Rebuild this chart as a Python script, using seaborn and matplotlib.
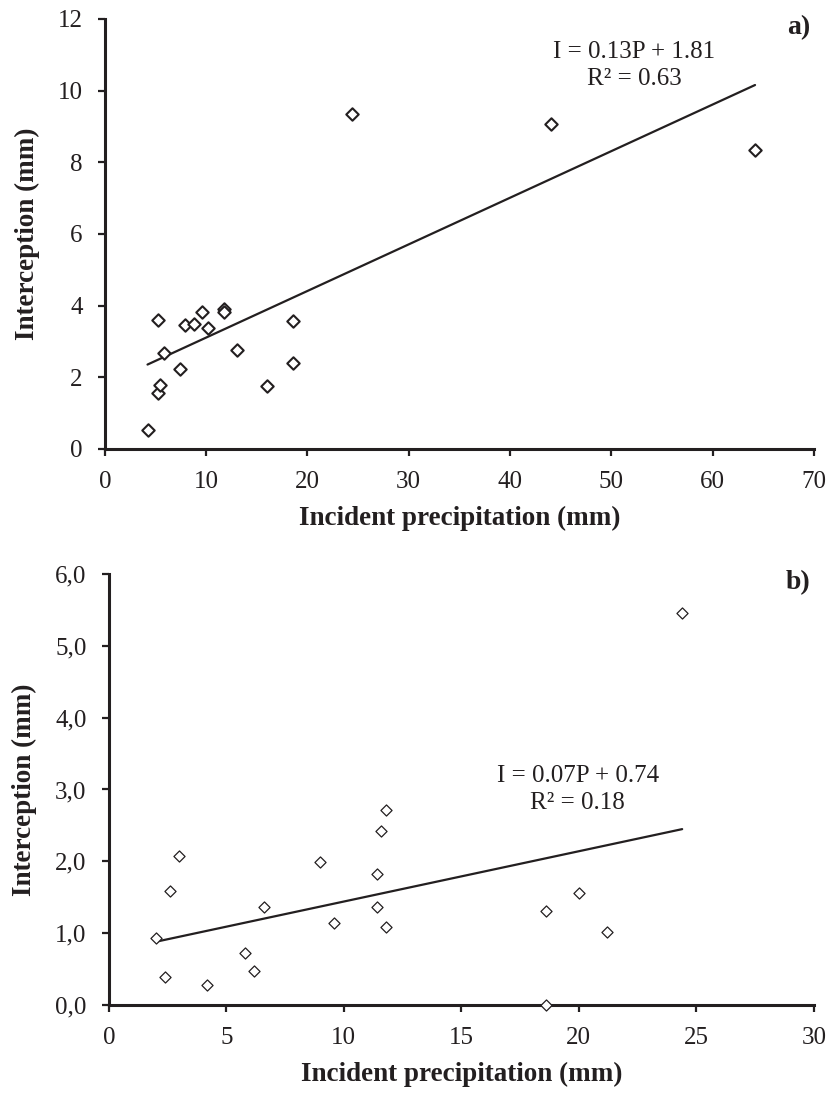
import matplotlib
matplotlib.use("Agg")
import matplotlib.pyplot as plt
import seaborn as sns
import pandas as pd
from matplotlib.ticker import FuncFormatter

# panel a) - incident precipitation vs interception (mm)
precip_a = [4.2, 5.2, 5.2, 5.4, 5.8, 7.4, 7.9, 8.8, 9.6, 10.2, 11.8, 11.8,
            13.0, 16.0, 18.6, 18.6, 24.4, 44.0, 64.2]
interc_a = [0.52, 1.57, 3.60, 1.78, 2.69, 2.23, 3.47, 3.48, 3.81, 3.38, 3.92,
            3.83, 2.76, 1.76, 3.58, 2.41, 9.35, 9.06, 8.35]
slope_a, icpt_a, r2_a = 0.13, 1.81, 0.63

# panel b)
precip_b = [2.0, 2.4, 2.6, 3.0, 4.2, 5.8, 6.2, 6.6, 9.0, 9.6, 11.4, 11.4,
            11.6, 11.8, 11.8, 18.6, 18.6, 20.0, 21.2, 24.4]
interc_b = [0.93, 0.39, 1.58, 2.07, 0.28, 0.73, 0.48, 1.37, 1.99, 1.14, 1.83,
            1.36, 2.42, 2.71, 1.08, 1.31, 0.00, 1.56, 1.01, 5.45]
slope_b, icpt_b, r2_b = 0.07, 0.74, 0.18

sns.set_style("ticks")
plt.rcParams['font.family'] = ['Liberation Serif', 'DejaVu Serif']
ink = '#231f20'

fig = plt.figure(figsize=(8.28, 11.01), dpi=100)
ax_a = fig.add_axes([0.1268, 0.5922, 0.856, 0.3906])
ax_b = fig.add_axes([0.1314, 0.0872, 0.8514, 0.3915])


def panel(ax, px, iy, slope, icpt, r2, msize, mew, xmax, xstep, ymax, ystep,
          yfmt, eq_xy, tag):
    df = pd.DataFrame({'P': px, 'I': iy})
    sns.scatterplot(data=df, x='P', y='I', ax=ax, marker='D', s=msize,
                    facecolor='white', edgecolor=ink, linewidth=mew, zorder=3,
                    clip_on=False)
    # trend line over the observed range
    xs = [min(px), max(px)]
    fit = pd.DataFrame({'P': xs, 'I': [slope * v + icpt for v in xs]})
    sns.lineplot(data=fit, x='P', y='I', ax=ax, color=ink, lw=1.6, zorder=2)
    ax.set_xlim(0, xmax)
    ax.set_ylim(0, ymax)
    ax.set_xticks(range(0, xmax + 1, xstep))
    ax.set_yticks([k * ystep for k in range(int(round(ymax / ystep)) + 1)])
    ax.yaxis.set_major_formatter(FuncFormatter(yfmt))
    for s in ['top', 'right']:
        ax.spines[s].set_visible(False)
    for s in ['left', 'bottom']:
        ax.spines[s].set_linewidth(2.2)
        ax.spines[s].set_color(ink)
    ax.tick_params(direction='out', length=5, width=1.6, color=ink,
                   labelsize=18, pad=11, labelcolor=ink)
    ax.set_xlabel('Incident precipitation (mm)', fontsize=19.5,
                  fontweight='bold', color=ink, labelpad=9)
    ax.set_ylabel('Interception (mm)', fontsize=19.5, fontweight='bold',
                  color=ink, labelpad=13)
    ax.text(eq_xy[0], eq_xy[1],
            f'I = {slope:.2f}P + {icpt:.2f}\nR\u00b2 = {r2:.2f}',
            ha='center', va='center', fontsize=18, color=ink,
            linespacing=1.3)
    ax.text(0.995, 1.01, tag, transform=ax.transAxes, ha='right', va='top',
            fontsize=20, fontweight='bold', color=ink)


panel(ax_a, precip_a, interc_a, slope_a, icpt_a, r2_a, 40, 1.5, 70, 10,
      12, 2, lambda v, p: f'{v:.0f}', (52.3, 10.7), 'a)')
panel(ax_b, precip_b, interc_b, slope_b, icpt_b, r2_b, 32, 0.9, 30, 5,
      6, 1, lambda v, p: f'{v:.1f}'.replace('.', ','), (19.95, 3.0), 'b)')

fig.savefig('out.png', dpi=100)
